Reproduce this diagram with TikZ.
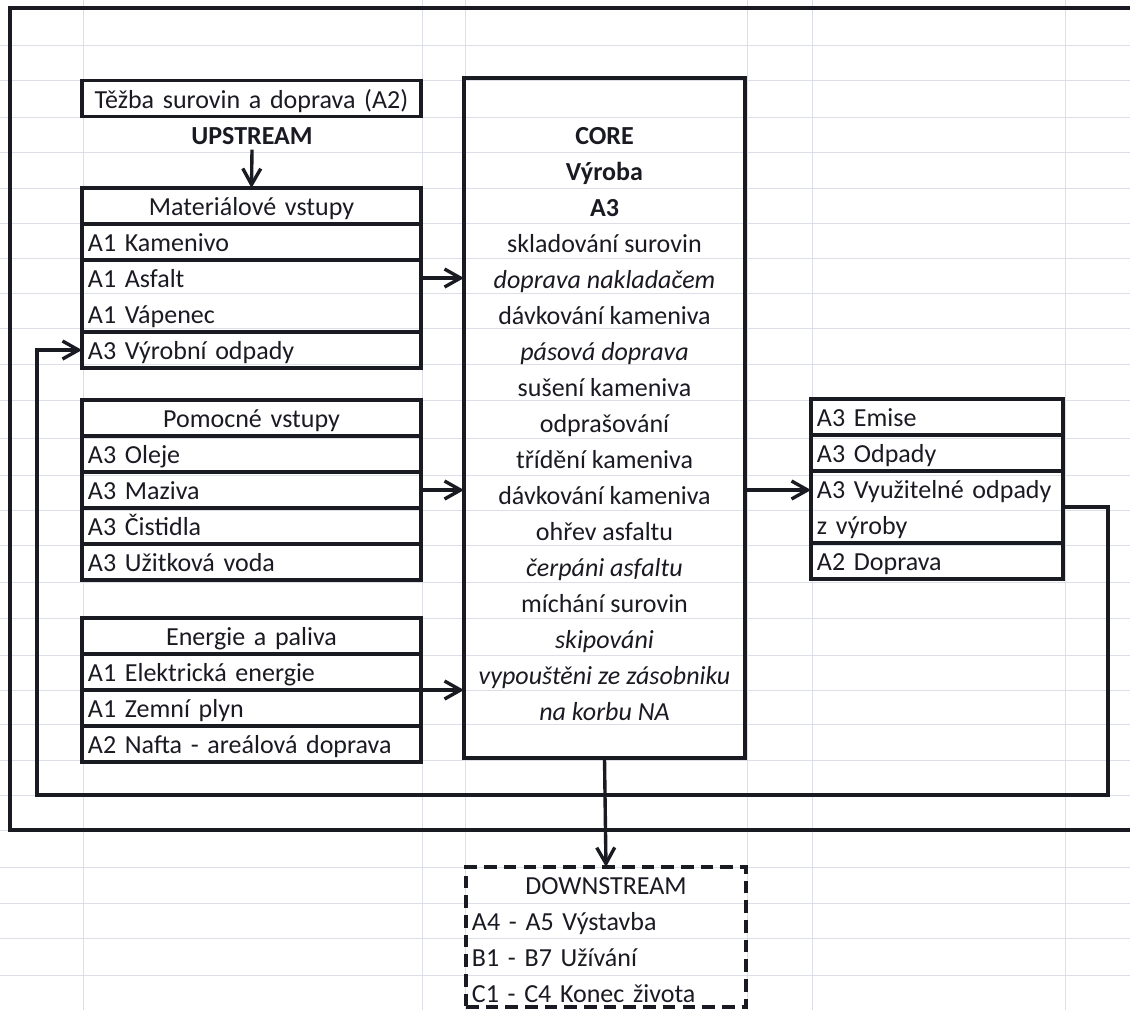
\documentclass[tikz,border=0pt]{standalone}
\usepackage{fontspec}
\setmainfont{Carlito}
\usetikzlibrary{positioning,arrows.meta}
\definecolor{ink}{RGB}{26,26,34}
\definecolor{gridc}{RGB}{220,222,234}
\newcommand{\fs}{\fontsize{18.5}{25.6}\selectfont}
\tikzset{
  cell/.style={minimum width=8.475cm, text width=8.175cm, minimum height=0.9cm,
    inner xsep=0.15cm, inner ysep=0pt, outer sep=0pt, align=left,
    text height=18pt, text depth=4pt, font=\fs, text=ink},
  cellbox/.style={cell, draw=ink, line width=2.4pt},
  headbox/.style={cellbox, align=center},
  rcell/.style={cell, minimum width=6.3cm, text width=6cm},
  rcellbox/.style={rcell, draw=ink, line width=2.4pt},
  dcell/.style={cell, minimum width=7cm, text width=6.7cm},
  frame/.style={draw=ink, line width=2.4pt},
  corebox/.style={draw=ink, line width=2.4pt, minimum width=7.025cm, minimum height=17cm,
    inner sep=0pt, outer sep=0pt, align=center, font=\fs, text=ink},
  dsbox/.style={draw=ink, line width=2.4pt, dash pattern=on 9pt off 5pt,
    minimum width=7cm, minimum height=3.5cm, inner sep=0pt, outer sep=0pt},
  arr/.style={draw=ink, line width=2.4pt, -{Straight Barb[length=4mm,width=4.5mm]}},
}
\begin{document}
\begin{tikzpicture}[x=0.025cm, y=-0.025cm]
  \useasboundingbox (0,0) rectangle (1130,1010);
  %% Grid
  \foreach \x in {83,422,465,747,812,1065}
    \draw[gridc, line width=0.6pt] (\x,0) -- (\x,1010);
  \foreach \y in {45,80,117,152,188,223,258,293,328,364,400,438,475,510,545,
                  582,618,655,690,724,760,795,830,867,903,938,975,1010}
    \draw[gridc, line width=0.6pt] (0,\y) -- (1130,\y);
  %% Outer frame
  \draw[frame, line width=2.8pt] (1140,8) -- (10,8) -- (10,830) -- (1140,830);
  %% Upstream
  \node[headbox] (tezba) at (251.5,98.5) {Těžba surovin a doprava (A2)};
  \node[font=\fs\bfseries, text=ink] (up) at (252,136) {UPSTREAM};
  %% Materialove vstupy
  \node[headbox] (mat1) at (251.5,206) {Materiálové vstupy};
  \node[cellbox, below=0pt of mat1] (mat2) {A1 Kamenivo};
  \node[cell, below=0pt of mat2] (mat3) {A1 Asfalt};
  \node[cell, below=0pt of mat3] (mat4) {A1 Vápenec};
  \draw[frame] (mat3.north west) rectangle (mat4.south east);
  \node[cellbox, below=0pt of mat4] (mat5) {A3 Výrobní odpady};
  %% Pomocne vstupy
  \node[headbox] (pom1) at (251.5,418) {Pomocné vstupy};
  \node[cellbox, below=0pt of pom1] (pom2) {A3 Oleje};
  \node[cellbox, below=0pt of pom2] (pom3) {A3 Maziva};
  \node[cellbox, below=0pt of pom3] (pom4) {A3 Čistidla};
  \node[cellbox, below=0pt of pom4] (pom5) {A3 Užitková voda};
  %% Energie a paliva
  \node[headbox] (en1) at (251.5,636) {Energie a paliva};
  \node[cellbox, below=0pt of en1] (en2) {A1 Elektrická energie};
  \node[cellbox, below=0pt of en2] (en3) {A1 Zemní plyn};
  \node[cellbox, below=0pt of en3] (en4) {A2 Nafta - areálová doprava};
  %% Core
  \node[corebox] (core) at (604.5,418) {\rule{0pt}{21pt}\textbf{CORE}\\ \textbf{Výroba}\\
    \textbf{A3}\\ skladování surovin\\ \textit{doprava nakladačem}\\ dávkování kameniva\\
    \textit{pásová doprava}\\ sušení kameniva\\ odprašování\\ třídění kameniva\\
    dávkování kameniva\\ ohřev asfaltu\\ \textit{čerpáni asfaltu}\\ míchání surovin\\
    \textit{skipováni}\\ \textit{vypouštěni ze zásobniku}\\ \textit{na korbu NA}};
  %% Outputs
  \node[rcellbox] (out1) at (937,417) {A3 Emise};
  \node[rcellbox, below=0pt of out1] (out2) {A3 Odpady};
  \node[rcell, below=0pt of out2] (out3) {A3 Využitelné odpady};
  \node[rcell, below=0pt of out3] (out4) {z výroby};
  \draw[frame] (out3.north west) rectangle (out4.south east);
  \node[rcellbox, below=0pt of out4] (out5) {A2 Doprava};
  %% Downstream
  \node[dsbox] (down) at (606,937) {};
  \node[dcell, align=center, below=0pt of down.north] (ds1) {DOWNSTREAM};
  \node[dcell, below=0pt of ds1] (ds2) {A4 - A5 Výstavba};
  \node[dcell, below=0pt of ds2] (ds3) {B1 - B7 Užívání};
  \node[dcell, below=0pt of ds3] (ds4) {C1 - C4 Konec života};
  %% Connectors
  \draw[arr] (up.south) -- (mat1.north);
  \draw[arr] (mat3.east) -- (core.west |- mat3.east);
  \draw[arr] (pom3.east) -- (core.west |- pom3.east);
  \draw[arr] (en2.south east) -- (core.west |- en2.south east);
  \draw[arr] (core.east |- pom3.east) -- (out3.west |- pom3.east);
  \draw[arr] (core.south) -- (down.north);
  %% Feedback loop
  \coordinate (fbR) at (1108,795);
  \coordinate (fbL) at (37,795);
  \draw[arr] (out4.north east) -| (fbR) -- (fbL) |- (mat5.west);
\end{tikzpicture}
\end{document}
